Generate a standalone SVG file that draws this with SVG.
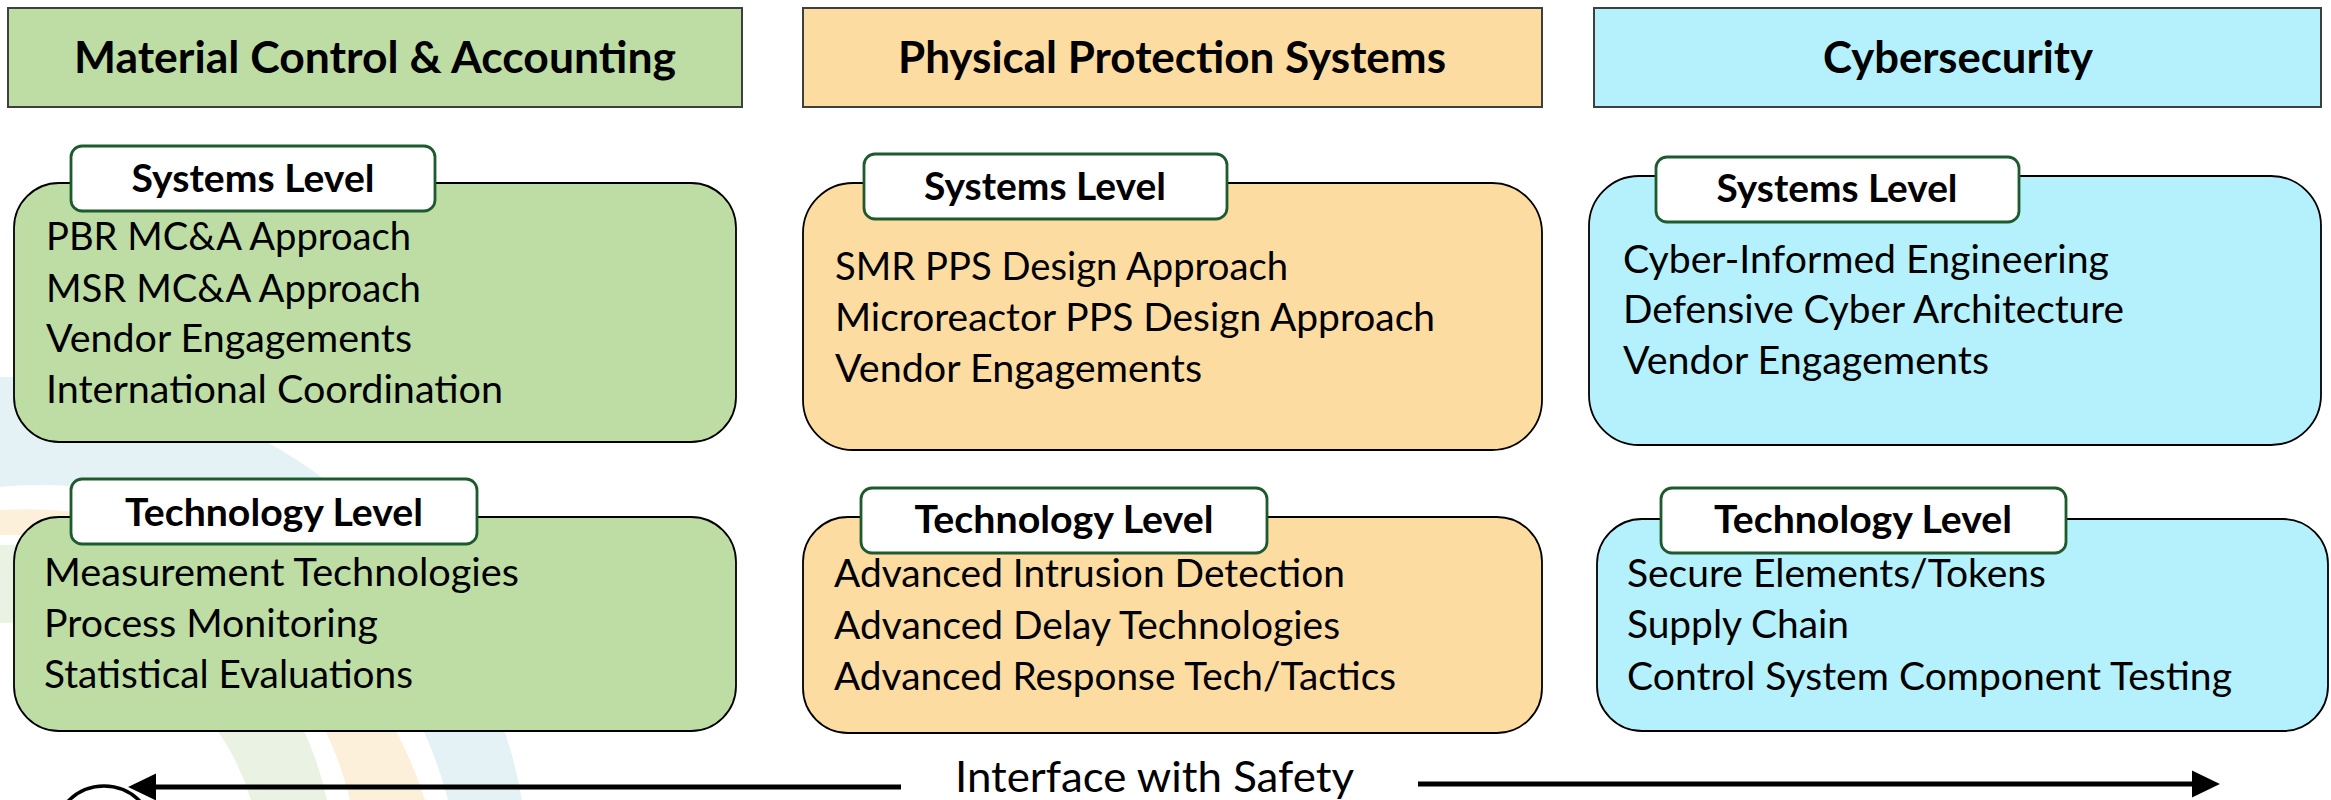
<svg xmlns="http://www.w3.org/2000/svg" width="2331" height="800" viewBox="0 0 2331 800">
<defs>
<style>
.hdr{stroke:#3f3f3f;stroke-width:2}
.box{stroke:#000;stroke-width:1.8}
.lbl{fill:#fff;stroke:#1d5a2e;stroke-width:2.8}
.ht{font-family:Lato,"Liberation Sans",sans-serif;font-weight:bold;font-size:44px;fill:#000;text-anchor:middle}
.lt{font-family:Lato,"Liberation Sans",sans-serif;font-weight:bold;font-size:38px;fill:#000;text-anchor:middle}
.bt{font-family:Lato,"Liberation Sans",sans-serif;font-size:38px;fill:#000}
.g{fill:#bddda4}.o{fill:#fddca2}.c{fill:#b5f1fc}
</style>
<marker id="ah" markerUnits="userSpaceOnUse" markerWidth="28" markerHeight="28" viewBox="0 0 27 26" refX="2" refY="13" orient="auto-start-reverse">
<path d="M0,0 L27,13 L0,26 Z" fill="#000"/>
</marker>
</defs>
<rect width="2331" height="800" fill="#fff"/>
<g id="watermark">
<path d="M0,377 A513,513 0 0 1 522,800 L448,800 A420,420 0 0 0 0,487 Z" fill="#e5f2f5"/>
<path d="M0,510 A418,418 0 0 1 425,800 L350,800 A346,346 0 0 0 0,535 Z" fill="#fdf0da"/>
<path d="M0,545 A322,322 0 0 1 327,800 L251,800 A250,250 0 0 0 0,623 Z" fill="#eaf3e3"/>
<circle cx="104" cy="836" r="50" fill="none" stroke="#000" stroke-width="3.5"/>
</g>
<g id="hdr-mca">
<rect class="hdr g" x="8" y="8" width="734" height="99"/>
<text class="ht" x="375" y="73" textLength="602" lengthAdjust="spacingAndGlyphs">Material Control &amp; Accounting</text>
</g>
<g id="hdr-pps">
<rect class="hdr o" x="803" y="8" width="739" height="99"/>
<text class="ht" x="1172" y="73" textLength="548" lengthAdjust="spacingAndGlyphs">Physical Protection Systems</text>
</g>
<g id="hdr-cyber">
<rect class="hdr c" x="1594" y="8" width="727" height="99"/>
<text class="ht" x="1958" y="73" textLength="270" lengthAdjust="spacingAndGlyphs">Cybersecurity</text>
</g>
<g id="mca-sys">
<rect class="box g" x="14" y="183" width="722" height="259" rx="45"/>
<rect class="lbl" x="71" y="146" width="364" height="65" rx="11"/>
<text class="lt" x="253" y="192" textLength="243" lengthAdjust="spacingAndGlyphs">Systems Level</text>
<text class="bt" x="46" y="250" textLength="365" lengthAdjust="spacingAndGlyphs">PBR MC&amp;A Approach</text>
<text class="bt" x="46" y="302" textLength="375" lengthAdjust="spacingAndGlyphs">MSR MC&amp;A Approach</text>
<text class="bt" x="46" y="352" textLength="366" lengthAdjust="spacingAndGlyphs">Vendor Engagements</text>
<text class="bt" x="46" y="403" textLength="457" lengthAdjust="spacingAndGlyphs">International Coordination</text>
</g>
<g id="mca-tech">
<rect class="box g" x="14" y="517" width="722" height="214" rx="45"/>
<rect class="lbl" x="71" y="479" width="406" height="65" rx="11"/>
<text class="lt" x="274" y="526" textLength="298" lengthAdjust="spacingAndGlyphs">Technology Level</text>
<text class="bt" x="44" y="586" textLength="475" lengthAdjust="spacingAndGlyphs">Measurement Technologies</text>
<text class="bt" x="44" y="637" textLength="334" lengthAdjust="spacingAndGlyphs">Process Monitoring</text>
<text class="bt" x="44" y="688" textLength="369" lengthAdjust="spacingAndGlyphs">Statistical Evaluations</text>
</g>
<g id="pps-sys">
<rect class="box o" x="803" y="183" width="739" height="267" rx="50"/>
<rect class="lbl" x="864" y="154" width="363" height="65" rx="11"/>
<text class="lt" x="1045" y="200" textLength="242" lengthAdjust="spacingAndGlyphs">Systems Level</text>
<text class="bt" x="835" y="280" textLength="453" lengthAdjust="spacingAndGlyphs">SMR PPS Design Approach</text>
<text class="bt" x="835" y="331" textLength="600" lengthAdjust="spacingAndGlyphs">Microreactor PPS Design Approach</text>
<text class="bt" x="835" y="382" textLength="367" lengthAdjust="spacingAndGlyphs">Vendor Engagements</text>
</g>
<g id="pps-tech">
<rect class="box o" x="803" y="517" width="739" height="216" rx="45"/>
<rect class="lbl" x="861" y="488" width="406" height="65" rx="11"/>
<text class="lt" x="1064" y="533" textLength="299" lengthAdjust="spacingAndGlyphs">Technology Level</text>
<text class="bt" x="834" y="587" textLength="511" lengthAdjust="spacingAndGlyphs">Advanced Intrusion Detection</text>
<text class="bt" x="834" y="639" textLength="506" lengthAdjust="spacingAndGlyphs">Advanced Delay Technologies</text>
<text class="bt" x="834" y="690" textLength="562" lengthAdjust="spacingAndGlyphs">Advanced Response Tech/Tactics</text>
</g>
<g id="cyber-sys">
<rect class="box c" x="1589" y="176" width="732" height="269" rx="50"/>
<rect class="lbl" x="1656" y="157" width="363" height="65" rx="11"/>
<text class="lt" x="1837" y="202" textLength="241" lengthAdjust="spacingAndGlyphs">Systems Level</text>
<text class="bt" x="1623" y="273" textLength="486" lengthAdjust="spacingAndGlyphs">Cyber-Informed Engineering</text>
<text class="bt" x="1623" y="323" textLength="501" lengthAdjust="spacingAndGlyphs">Defensive Cyber Architecture</text>
<text class="bt" x="1623" y="374" textLength="366" lengthAdjust="spacingAndGlyphs">Vendor Engagements</text>
</g>
<g id="cyber-tech">
<rect class="box c" x="1597" y="519" width="731" height="212" rx="45"/>
<rect class="lbl" x="1661" y="488" width="405" height="65" rx="11"/>
<text class="lt" x="1863" y="533" textLength="298" lengthAdjust="spacingAndGlyphs">Technology Level</text>
<text class="bt" x="1627" y="587" textLength="419" lengthAdjust="spacingAndGlyphs">Secure Elements/Tokens</text>
<text class="bt" x="1627" y="638" textLength="222" lengthAdjust="spacingAndGlyphs">Supply Chain</text>
<text class="bt" x="1627" y="690" textLength="605" lengthAdjust="spacingAndGlyphs">Control System Component Testing</text>
</g>
<g id="connectors" stroke="#000" stroke-width="5" fill="none">
<line x1="901" y1="787" x2="154" y2="787" marker-end="url(#ah)"/>
<line x1="1418" y1="784" x2="2194" y2="784" marker-end="url(#ah)"/>
</g>
<g id="safety-label">
<text class="bt" x="955" y="792" font-size="42" textLength="399" lengthAdjust="spacingAndGlyphs" style="font-size:42px">Interface with Safety</text>
</g>
</svg>
